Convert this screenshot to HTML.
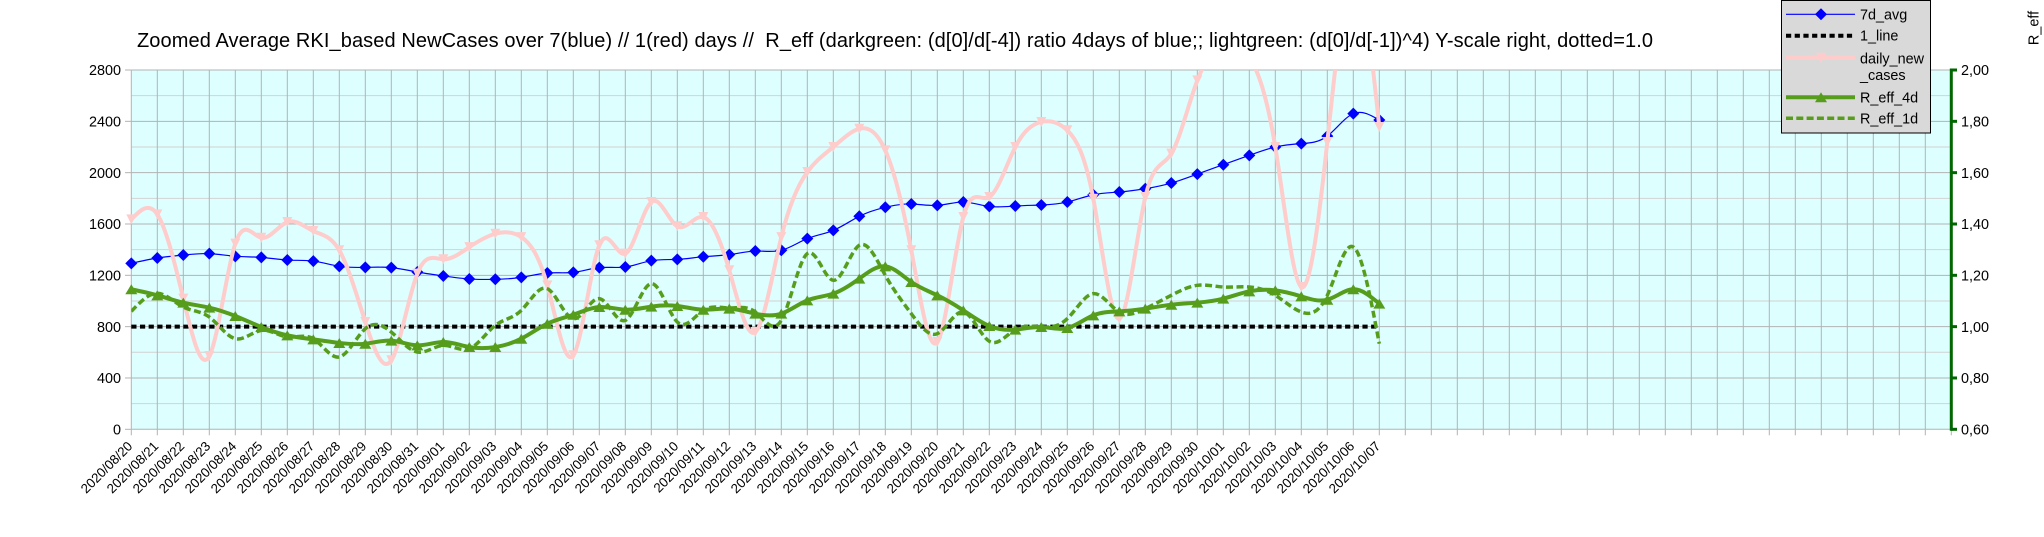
<!DOCTYPE html>
<html>
<head>
<meta charset="utf-8">
<style>
  html, body { margin:0; padding:0; background:#fff; }
  svg { display:block; }
  text { font-family: "Liberation Sans", Arial, sans-serif; fill:#000; }
</style>
</head>
<body>
<svg id="chart" width="2044" height="537" viewBox="0 0 2044 537" xmlns="http://www.w3.org/2000/svg">
  <rect x="0" y="0" width="2044" height="537" fill="#ffffff"/>
  <defs>
    <clipPath id="plotclip"><rect x="131.3" y="70" width="1820" height="359.3"/></clipPath>
  </defs>

  <!-- Title -->
  <text x="137" y="47" font-size="20" textLength="1516" lengthAdjust="spacing" style="white-space:pre">Zoomed Average RKI_based NewCases over 7(blue) // 1(red) days //  R_eff (darkgreen: (d[0]/d[-4]) ratio 4days of blue;; lightgreen: (d[0]/d[-1])^4) Y-scale right, dotted=1.0</text>

  <!-- Plot background -->
  <rect x="131.3" y="70" width="1820" height="359.3" fill="#ddffff"/>
  <g id="grid"></g>
  <g id="ticks"></g>

  <!-- Left axis labels -->
  <g font-size="14.4" text-anchor="end">
    <text x="121" y="434.5">0</text>
    <text x="121" y="383.2">400</text>
    <text x="121" y="331.8">800</text>
    <text x="121" y="280.5">1200</text>
    <text x="121" y="229.2">1600</text>
    <text x="121" y="177.8">2000</text>
    <text x="121" y="126.5">2400</text>
    <text x="121" y="75.2">2800</text>
  </g>

  <!-- Right axis labels -->
  <g font-size="14.4" text-anchor="start">
    <text x="1961" y="434.5">0,60</text>
    <text x="1961" y="383.2">0,80</text>
    <text x="1961" y="331.8">1,00</text>
    <text x="1961" y="280.5">1,20</text>
    <text x="1961" y="229.2">1,40</text>
    <text x="1961" y="177.8">1,60</text>
    <text x="1961" y="126.5">1,80</text>
    <text x="1961" y="75.2">2,00</text>
  </g>
  <text font-size="14.4" text-anchor="middle" transform="translate(2038.5,28) rotate(-90)">R_eff</text>

  <!-- Date labels -->
  <g font-size="13.3" text-anchor="end">
    <text transform="translate(133.3,447) rotate(-45)">2020/08/20</text>
    <text transform="translate(159.3,447) rotate(-45)">2020/08/21</text>
    <text transform="translate(185.3,447) rotate(-45)">2020/08/22</text>
    <text transform="translate(211.3,447) rotate(-45)">2020/08/23</text>
    <text transform="translate(237.3,447) rotate(-45)">2020/08/24</text>
    <text transform="translate(263.3,447) rotate(-45)">2020/08/25</text>
    <text transform="translate(289.3,447) rotate(-45)">2020/08/26</text>
    <text transform="translate(315.3,447) rotate(-45)">2020/08/27</text>
    <text transform="translate(341.3,447) rotate(-45)">2020/08/28</text>
    <text transform="translate(367.3,447) rotate(-45)">2020/08/29</text>
    <text transform="translate(393.3,447) rotate(-45)">2020/08/30</text>
    <text transform="translate(419.3,447) rotate(-45)">2020/08/31</text>
    <text transform="translate(445.3,447) rotate(-45)">2020/09/01</text>
    <text transform="translate(471.3,447) rotate(-45)">2020/09/02</text>
    <text transform="translate(497.3,447) rotate(-45)">2020/09/03</text>
    <text transform="translate(523.3,447) rotate(-45)">2020/09/04</text>
    <text transform="translate(549.3,447) rotate(-45)">2020/09/05</text>
    <text transform="translate(575.3,447) rotate(-45)">2020/09/06</text>
    <text transform="translate(601.3,447) rotate(-45)">2020/09/07</text>
    <text transform="translate(627.3,447) rotate(-45)">2020/09/08</text>
    <text transform="translate(653.3,447) rotate(-45)">2020/09/09</text>
    <text transform="translate(679.3,447) rotate(-45)">2020/09/10</text>
    <text transform="translate(705.3,447) rotate(-45)">2020/09/11</text>
    <text transform="translate(731.3,447) rotate(-45)">2020/09/12</text>
    <text transform="translate(757.3,447) rotate(-45)">2020/09/13</text>
    <text transform="translate(783.3,447) rotate(-45)">2020/09/14</text>
    <text transform="translate(809.3,447) rotate(-45)">2020/09/15</text>
    <text transform="translate(835.3,447) rotate(-45)">2020/09/16</text>
    <text transform="translate(861.3,447) rotate(-45)">2020/09/17</text>
    <text transform="translate(887.3,447) rotate(-45)">2020/09/18</text>
    <text transform="translate(913.3,447) rotate(-45)">2020/09/19</text>
    <text transform="translate(939.3,447) rotate(-45)">2020/09/20</text>
    <text transform="translate(965.3,447) rotate(-45)">2020/09/21</text>
    <text transform="translate(991.3,447) rotate(-45)">2020/09/22</text>
    <text transform="translate(1017.3,447) rotate(-45)">2020/09/23</text>
    <text transform="translate(1043.3,447) rotate(-45)">2020/09/24</text>
    <text transform="translate(1069.3,447) rotate(-45)">2020/09/25</text>
    <text transform="translate(1095.3,447) rotate(-45)">2020/09/26</text>
    <text transform="translate(1121.3,447) rotate(-45)">2020/09/27</text>
    <text transform="translate(1147.3,447) rotate(-45)">2020/09/28</text>
    <text transform="translate(1173.3,447) rotate(-45)">2020/09/29</text>
    <text transform="translate(1199.3,447) rotate(-45)">2020/09/30</text>
    <text transform="translate(1225.3,447) rotate(-45)">2020/10/01</text>
    <text transform="translate(1251.3,447) rotate(-45)">2020/10/02</text>
    <text transform="translate(1277.3,447) rotate(-45)">2020/10/03</text>
    <text transform="translate(1303.3,447) rotate(-45)">2020/10/04</text>
    <text transform="translate(1329.3,447) rotate(-45)">2020/10/05</text>
    <text transform="translate(1355.3,447) rotate(-45)">2020/10/06</text>
    <text transform="translate(1381.3,447) rotate(-45)">2020/10/07</text>
  </g>

  <!-- Series -->
  <g id="series"></g>

  <!-- Right axis -->
  <g id="raxis"></g>

  <!-- Legend -->
  <rect x="1781.5" y="0.5" width="149" height="132.5" fill="#d9d9d9" stroke="#000" stroke-width="1"/>
  <line x1="1786" y1="14.3" x2="1855" y2="14.3" stroke="#0000ff" stroke-width="1.2"/>
  <polygon points="1821,8.3 1827,14.3 1821,20.3 1815,14.3" fill="#0000ff"/>
  <line x1="1786" y1="35.7" x2="1855" y2="35.7" stroke="#000" stroke-width="4" stroke-dasharray="5.2 3.5"/>
  <line x1="1786" y1="57.7" x2="1855" y2="57.7" stroke="#ffcccc" stroke-width="4"/>
  <polygon points="1816,52.7 1826,52.7 1821,62.7" fill="#ffcccc"/>
  <line x1="1786" y1="97.3" x2="1855" y2="97.3" stroke="#579d1c" stroke-width="4"/>
  <polygon points="1815,102.3 1827,102.3 1821,92.3" fill="#579d1c"/>
  <line x1="1786" y1="118.3" x2="1855" y2="118.3" stroke="#579d1c" stroke-width="3.5" stroke-dasharray="7 3.3"/>
  <g font-size="14.4">
    <text x="1860" y="19.3">7d_avg</text>
    <text x="1860" y="40.7">1_line</text>
    <text x="1860" y="63.3">daily_new</text>
    <text x="1860" y="80">_cases</text>
    <text x="1860" y="102.3">R_eff_4d</text>
    <text x="1860" y="123.3">R_eff_1d</text>
  </g>
</svg>

<script>
(function(){
  var NS = "http://www.w3.org/2000/svg";
  var X0 = 131.3, DX = 26, T = 70, B = 429.3, NCAT = 70;
  function X(i){ return X0 + DX*i; }
  function Y(v){ return B - v*(B-T)/2800; }
  function el(name, attrs, parent){
    var e = document.createElementNS(NS, name);
    for (var k in attrs) e.setAttribute(k, attrs[k]);
    parent.appendChild(e);
    return e;
  }
  var grid = document.getElementById('grid');
  for (var v = 200; v < 2800; v += 400) {
    el('line', {x1:X0, x2:X0+DX*NCAT, y1:Y(v), y2:Y(v), stroke:'#d2d2d2', 'stroke-width':1}, grid);
  }
  for (var i = 0; i <= NCAT; i++) {
    el('line', {x1:X(i), x2:X(i), y1:T, y2:B, stroke:'#b3b3b3', 'stroke-width':1}, grid);
  }
  for (var v2 = 0; v2 <= 2800; v2 += 400) {
    el('line', {x1:X0, x2:X0+DX*NCAT, y1:Y(v2), y2:Y(v2), stroke:'#b3b3b3', 'stroke-width':1}, grid);
  }
  var ticks = document.getElementById('ticks');
  for (var j = 0; j <= NCAT; j++) {
    el('line', {x1:X(j), x2:X(j), y1:B, y2:B+6, stroke:'#b3b3b3', 'stroke-width':1}, ticks);
  }
  for (var v3 = 0; v3 <= 2800; v3 += 400) {
    el('line', {x1:125, x2:X0, y1:Y(v3), y2:Y(v3), stroke:'#b3b3b3', 'stroke-width':1}, ticks);
  }

  function splinePath(vals){
    var n = vals.length, h = DX;
    var y = vals.map(Y);
    var M = new Array(n).fill(0);
    if (n > 2) {
      var m = n-2, cp = [], dp = [];
      for (var i = 0; i < m; i++) {
        var d = 6*(y[i+2]-2*y[i+1]+y[i])/(h*h);
        if (i === 0) { cp[0] = 1/4; dp[0] = d/4; }
        else { var den = 4 - cp[i-1]; cp[i] = 1/den; dp[i] = (d - dp[i-1])/den; }
      }
      var sol = new Array(m);
      sol[m-1] = dp[m-1];
      for (var k = m-2; k >= 0; k--) sol[k] = dp[k] - cp[k]*sol[k+1];
      for (var q = 0; q < m; q++) M[q+1] = sol[q];
    }
    var s = 'M' + X(0).toFixed(2) + ' ' + y[0].toFixed(2);
    for (var i2 = 0; i2 < n-1; i2++) {
      var sl = (y[i2+1]-y[i2])/h;
      var d0 = sl - h*(2*M[i2]+M[i2+1])/6;
      var d1 = sl + h*(M[i2]+2*M[i2+1])/6;
      s += ' C' + (X(i2)+h/3).toFixed(2) + ' ' + (y[i2]+d0*h/3).toFixed(2) + ' ' +
           (X(i2+1)-h/3).toFixed(2) + ' ' + (y[i2+1]-d1*h/3).toFixed(2) + ' ' +
           X(i2+1).toFixed(2) + ' ' + y[i2+1].toFixed(2);
    }
    return s;
  }

  var blue = [1293,1335,1358,1369,1348,1340,1319,1311,1270,1262,1260,1226,1195,1171,1169,1184,1218,1223,1260,1265,1314,1324,1345,1361,1389,1395,1486,1550,1660,1730,1756,1745,1771,1737,1740,1748,1771,1828,1849,1875,1919,1989,2062,2135,2200,2226,2285,2460,2410];
  var pink = [1636,1675,1018,571,1447,1493,1615,1545,1395,836,538,1213,1325,1420,1524,1498,1122,577,1434,1369,1771,1582,1654,1239,758,1498,2005,2200,2342,2174,1395,680,1654,1810,2200,2395,2330,1797,862,1810,2148,2719,3000,2900,2200,1109,2239,3600,2356];
  var g4 = [1091,1044,987,948,883,797,732,701,673,667,691,654,680,641,641,706,823,893,953,932,956,961,932,940,901,901,1005,1057,1174,1270,1148,1044,927,805,777,797,789,888,919,940,971,987,1018,1075,1083,1036,1010,1091,979];
  var g1 = [919,1060,953,875,706,771,719,706,564,784,758,602,654,628,810,927,1096,862,1018,849,1135,836,927,945,914,849,1369,1161,1434,1200,901,745,914,686,777,797,862,1057,914,940,1044,1122,1109,1109,1044,914,1044,1421,667];

  var ser = document.getElementById('series');
  var clipG = function(){ return el('g', {'clip-path':'url(#plotclip)'}, ser); };

  var gb = clipG();
  el('path', {d:splinePath(blue), fill:'none', stroke:'#0000ff', 'stroke-width':1.2}, gb);
  var gbm = el('g', {}, ser);
  blue.forEach(function(v,i){
    var x = X(i), yy = Y(v), r = 6;
    el('polygon', {points:(x)+','+(yy-r)+' '+(x+r)+','+yy+' '+x+','+(yy+r)+' '+(x-r)+','+yy, fill:'#0000ff'}, gbm);
  });

  el('line', {x1:X(0), x2:X(48), y1:Y(800), y2:Y(800), stroke:'#000', 'stroke-width':4, 'stroke-dasharray':'5.2 3.47'}, ser);

  var gp = clipG();
  el('path', {d:splinePath(pink), fill:'none', stroke:'#ffcccc', 'stroke-width':4, 'stroke-linejoin':'round'}, gp);
  var gpm = el('g', {}, ser);
  pink.forEach(function(v,i){
    if (v > 2790) return;
    var x = X(i), yy = Y(v);
    el('polygon', {points:(x-5)+','+(yy-5)+' '+(x+5)+','+(yy-5)+' '+x+','+(yy+5), fill:'#ffcccc'}, gpm);
  });

  var g4g = clipG();
  el('path', {d:splinePath(g4), fill:'none', stroke:'#579d1c', 'stroke-width':4, 'stroke-linejoin':'round'}, g4g);
  var g4m = el('g', {}, ser);
  g4.forEach(function(v,i){
    var x = X(i), yy = Y(v);
    el('polygon', {points:(x-6)+','+(yy+5)+' '+(x+6)+','+(yy+5)+' '+x+','+(yy-5), fill:'#579d1c'}, g4m);
  });

  var g1g = clipG();
  el('path', {d:splinePath(g1), fill:'none', stroke:'#579d1c', 'stroke-width':3.5, 'stroke-dasharray':'7 3.5'}, g1g);

  var ra = document.getElementById('raxis');
  el('line', {x1:1951.3, x2:1951.3, y1:T-1.5, y2:B+1.5, stroke:'#006600', 'stroke-width':3}, ra);
  for (var v4 = 0; v4 <= 2800; v4 += 400) {
    el('line', {x1:1951.3, x2:1957, y1:Y(v4), y2:Y(v4), stroke:'#006600', 'stroke-width':3}, ra);
  }
})();
</script>
</body>
</html>
